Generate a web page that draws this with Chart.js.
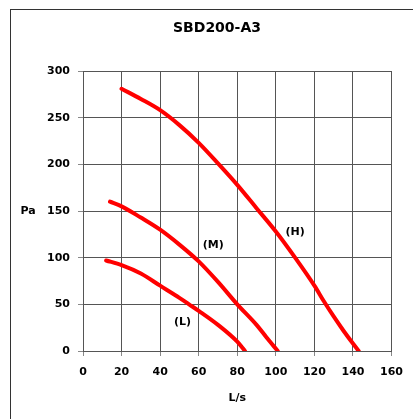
<!DOCTYPE html>
<html>
<head>
<meta charset="utf-8">
<script src="https://cdn.jsdelivr.net/npm/chart.js@4/dist/chart.umd.min.js"></script>
<style>
html,body{margin:0;padding:0;background:#fff;}
#wrap{width:413px;height:419px;position:relative;}
</style>
</head>
<body>
<div id="wrap"><canvas id="c" width="413" height="419"></canvas></div>
<script>
const chartTitle = 'SBD200-A3';
const xTitle = 'L/s';
const yTitle = 'Pa';
const xTicks = [0, 20, 40, 60, 80, 100, 120, 140, 160];
const yTicks = [0, 50, 100, 150, 200, 250, 300];

const hFlow = [20, 30, 40, 50, 60, 70, 80, 90, 100, 110, 120, 125, 130, 135, 140, 143];
const hPres = [281, 270, 258, 242, 223, 201, 178, 153, 128, 100, 70, 53, 37, 22, 8, 0];
const mFlow = [14, 20, 30, 40, 50, 60, 70, 80, 90, 95, 101];
const mPres = [160, 155, 143, 130, 114, 96, 74, 50, 28, 15, 0];
const lFlow = [12, 20, 30, 40, 50, 55, 60, 70, 80, 84];
const lPres = [97, 92, 83, 70, 57, 50, 43, 28, 10, 0];

const curveLabels = ['(H)', '(M)', '(L)'];
const labelFlow = [110, 67.5, 51.6];
const labelPres = [127.5, 113.6, 31.4];

const FONT = '"DejaVu Sans", Verdana, sans-serif';

function pts(xs, ys) { return xs.map((x, i) => ({x: x, y: ys[i]})); }

const ds = (xs, ys) => ({
  data: pts(xs, ys),
  borderColor: '#ff0000',
  borderWidth: 4,
  borderCapStyle: 'round',
  pointRadius: 0,
  cubicInterpolationMode: 'monotone',
  fill: false
});

const decor = {
  id: 'decor',
  beforeDraw(chart) {
    const ctx = chart.ctx;
    ctx.save();
    ctx.strokeStyle = '#333';
    ctx.lineWidth = 1;
    ctx.strokeRect(10.5, 9.5, 440, 440);
    ctx.fillStyle = '#000';
    ctx.font = 'bold 14px ' + FONT;
    ctx.textAlign = 'center';
    ctx.textBaseline = 'middle';
    ctx.fillText(chartTitle, 217, 28);
    ctx.restore();
  },
  afterDatasetsDraw(chart) {
    const ctx = chart.ctx;
    const xs = chart.scales.x, ys = chart.scales.y;
    ctx.save();
    ctx.fillStyle = '#000';
    ctx.font = 'bold 11px ' + FONT;
    ctx.textAlign = 'center';
    ctx.textBaseline = 'middle';
    curveLabels.forEach((t, i) => {
      ctx.fillText(t, xs.getPixelForValue(labelFlow[i]), ys.getPixelForValue(labelPres[i]));
    });
    ctx.fillText(yTitle, 28, ys.getPixelForValue(150));
    ctx.restore();
  }
};

new Chart(document.getElementById('c'), {
  type: 'line',
  data: {
    datasets: [ds(hFlow, hPres), ds(mFlow, mPres), ds(lFlow, lPres)]
  },
  options: {
    responsive: false,
    animation: false,
    layout: {padding: {top: 71, right: 20, bottom: 0, left: 0}},
    plugins: {
      legend: {display: false},
      tooltip: {enabled: false},
      title: {display: false}
    },
    scales: {
      x: {
        type: 'linear',
        min: 0, max: 160,
        afterFit(s) { s.height = 68; },
        afterBuildTicks(s) { s.ticks = xTicks.map(v => ({value: v})); },
        grid: {color: '#555', lineWidth: 1, tickLength: 5, tickColor: '#888'},
        border: {color: '#555'},
        ticks: {color: '#000', padding: 10, maxRotation: 0, font: {family: FONT, size: 11, weight: 'bold'}},
        title: {display: true, text: xTitle, color: '#000', padding: {top: 0, bottom: 14},
                font: {family: FONT, size: 11, weight: 'bold', lineHeight: 1.2}}
      },
      y: {
        type: 'linear',
        min: 0, max: 300,
        afterFit(s) { s.width = 83; },
        afterBuildTicks(s) { s.ticks = yTicks.map(v => ({value: v})); },
        grid: {color: '#555', lineWidth: 1, tickLength: 5, tickColor: '#888'},
        border: {color: '#555'},
        ticks: {color: '#000', padding: 8, font: {family: FONT, size: 11, weight: 'bold'}}
      }
    }
  },
  plugins: [decor]
});
</script>
</body>
</html>
